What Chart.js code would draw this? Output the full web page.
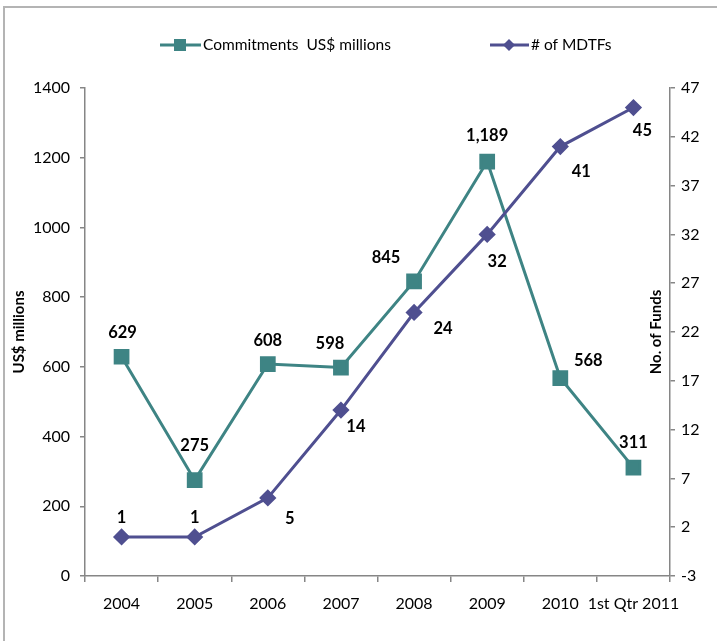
<!DOCTYPE html>
<html><head><meta charset="utf-8">
<script src="https://cdn.jsdelivr.net/npm/chart.js@4/dist/chart.umd.min.js"></script>
<style>
html,body{margin:0;padding:0;background:#fff;overflow:hidden}
#wrap{position:relative;width:717px;height:641px;overflow:hidden}
#frame{position:absolute;left:3px;top:6px;width:800px;height:700px;border-top:2px solid #B4B4B4;border-left:2px solid #B4B4B4}
canvas{position:absolute;left:0;top:0}
</style></head><body>
<div id="wrap"><div id="frame"></div><canvas id="c" width="717" height="641"></canvas></div>
<script>
const categories = ['2004','2005','2006','2007','2008','2009','2010','1st Qtr 2011'];
const commitments = [629, 275, 608, 598, 845, 1189, 568, 311];
const mdtfs = [1, 1, 5, 14, 24, 32, 41, 45];
const commitmentLabels = ['629','275','608','598','845','1,189','568','311'];
const mdtfLabels = ['1','1','5','14','24','32','41','45'];
const leftTicks = [0, 200, 400, 600, 800, 1000, 1200, 1400];
const rightTicks = [-3, 2, 7, 12, 17, 22, 27, 32, 37, 42, 47];
const seriesNames = ['Commitments  US$ millions', '# of MDTFs'];
const axisTitles = ['US$ millions', 'No. of Funds'];

// label placement offsets (style)
const commitOffsets = [[1,-24],[0,-34],[0,-23],[-11,-24],[-28,-24],[0,-26],[28,-17],[0,-25]];
const mdtfOffsets = [[0,-19],[0,-19],[22,21],[15,17],[29,16],[10,27],[21,25],[9,23]];

const TEAL = '#3E8484';
const PURPLE = '#4F4F90';
const FONT = 'Lato, "Open Sans", sans-serif';

const labelPlugin = {
  id: 'labels',
  afterDatasetsDraw(chart) {
    const ctx = chart.ctx;
    ctx.save();
    ctx.font = 'bold 16.5px ' + FONT;
    ctx.fillStyle = '#000';
    ctx.textAlign = 'center';
    ctx.textBaseline = 'middle';
    const sets = [[commitmentLabels, commitOffsets], [mdtfLabels, mdtfOffsets]];
    chart.data.datasets.forEach((ds, i) => {
      const meta = chart.getDatasetMeta(i);
      meta.data.forEach((pt, j) => {
        const txt = sets[i][0][j], off = sets[i][1][j];
        ctx.fillText(txt, pt.x + off[0], pt.y + off[1]);
      });
    });
    ctx.restore();
  },
  afterDraw(chart) {
    const ctx = chart.ctx;
    const ca = chart.chartArea;
    ctx.save();
    ctx.font = 'bold 15px ' + FONT;
    ctx.fillStyle = '#000';
    ctx.textAlign = 'center';
    ctx.textBaseline = 'middle';
    const midY = (ca.top + ca.bottom) / 2;
    ctx.save(); ctx.translate(19, midY); ctx.rotate(-Math.PI/2); ctx.fillText(axisTitles[0], 0, 0); ctx.restore();
    ctx.save(); ctx.translate(ca.right - 14, midY); ctx.rotate(-Math.PI/2); ctx.fillText(axisTitles[1], 0, 0); ctx.restore();
    // legend
    const ly = 45;
    ctx.font = '15.5px ' + FONT;
    ctx.textAlign = 'left';
    ctx.strokeStyle = TEAL; ctx.lineWidth = 3;
    ctx.beginPath(); ctx.moveTo(160, ly); ctx.lineTo(201, ly); ctx.stroke();
    ctx.fillStyle = TEAL; ctx.fillRect(174, ly - 6, 12, 12);
    ctx.fillStyle = '#000'; ctx.fillText(seriesNames[0], 203, ly);
    ctx.strokeStyle = PURPLE;
    ctx.beginPath(); ctx.moveTo(490, ly); ctx.lineTo(529, ly); ctx.stroke();
    ctx.fillStyle = PURPLE;
    ctx.beginPath(); ctx.moveTo(503, ly); ctx.lineTo(509, ly - 6); ctx.lineTo(515, ly); ctx.lineTo(509, ly + 6); ctx.closePath(); ctx.fill();
    ctx.fillStyle = '#000'; ctx.fillText(seriesNames[1], 531, ly);
    ctx.restore();
  }
};

Chart.defaults.font.family = FONT;
Chart.defaults.color = '#000';

new Chart(document.getElementById('c'), {
  type: 'line',
  data: {
    labels: categories,
    datasets: [
      { label: seriesNames[0], data: commitments, yAxisID: 'y', borderColor: TEAL, backgroundColor: TEAL,
        borderWidth: 3, pointStyle: 'rect', pointRadius: 9, pointHoverRadius: 9, tension: 0, order: 1 },
      { label: seriesNames[1], data: mdtfs, yAxisID: 'y1', borderColor: PURPLE, backgroundColor: PURPLE,
        borderWidth: 3, pointStyle: 'rectRot', pointRadius: 6.5, pointHoverRadius: 6.5, tension: 0, order: 0 }
    ]
  },
  options: {
    responsive: false,
    devicePixelRatio: 1,
    animation: false,
    layout: { padding: { top: 88, left: 0, right: 0, bottom: 0 } },
    plugins: { legend: { display: false }, tooltip: { enabled: false } },
    scales: {
      x: {
        type: 'category', offset: true,
        grid: { offset: true, drawOnChartArea: false, tickLength: 6, color: '#868686', lineWidth: 1.5 },
        border: { color: '#868686', width: 1.5 },
        ticks: { font: { size: 16 }, color: '#000', padding: 12, autoSkip: false, maxRotation: 0, minRotation: 0 },
        afterFit: s => { s.height = 65; }
      },
      y: {
        position: 'left', min: 0, max: 1400,
        afterBuildTicks: s => { s.ticks = leftTicks.map(v => ({ value: v })); },
        grid: { drawOnChartArea: false, tickLength: 5, color: '#868686', lineWidth: 1.5 },
        border: { color: '#868686', width: 1.5 },
        ticks: { font: { size: 16 }, color: '#000', padding: 10, callback: v => String(v) },
        afterFit: s => { s.width = 85; }
      },
      y1: {
        position: 'right', min: -3, max: 47,
        afterBuildTicks: s => { s.ticks = rightTicks.map(v => ({ value: v })); },
        grid: { drawOnChartArea: false, tickLength: 5, color: '#868686', lineWidth: 1.5 },
        border: { color: '#868686', width: 1.5 },
        ticks: { font: { size: 16 }, color: '#000', padding: 6, callback: v => String(v) },
        afterFit: s => { s.width = 47; }
      }
    }
  },
  plugins: [labelPlugin]
});
</script>
</body></html>
